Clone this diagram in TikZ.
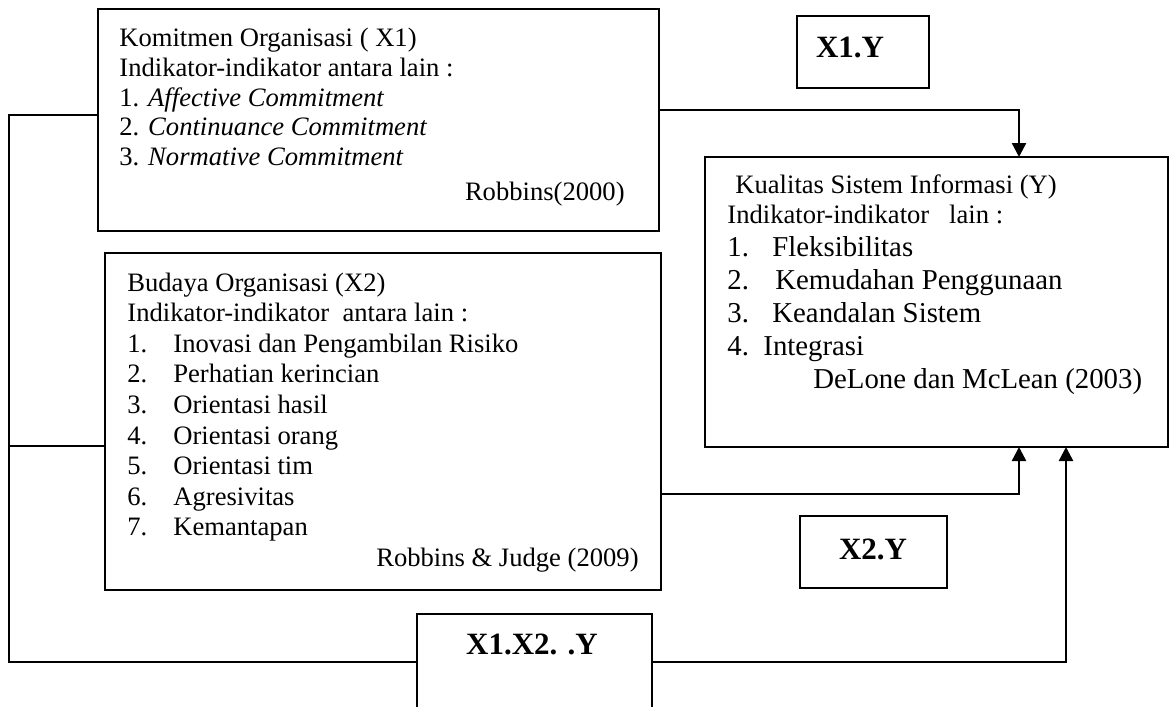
\documentclass[tikz,border=0pt]{standalone}
\usepackage{fontspec}
\setmainfont{Liberation Serif}
\usetikzlibrary{arrows.meta}

\tikzset{
  box/.style={draw, line width=1pt, inner sep=0pt},
  txt/.style={inner sep=0pt, anchor=base west, font=\fontsize{13.3}{15.3}\selectfont},
  lbl/.style={inner sep=0pt, font=\fontsize{15.5}{18}\selectfont\bfseries},
  link/.style={line width=1pt},
  arr/.style={line width=1.2pt, -{Triangle[length=7pt,width=7pt]}}
}
\newcommand{\num}[2][23pt]{\makebox[#1][l]{#2}}
\newcommand{\boxlines}[1]{\begin{tabular}[t]{@{}l@{}}#1\end{tabular}}

\begin{document}
\begin{tikzpicture}[x=0.5pt, y=-0.5pt]
  \useasboundingbox (0,0) rectangle (1171,706);

  % boxes
  \node[box, minimum width=280.5pt, minimum height=111pt] (x1) at (378.5,120) {};
  \node[box, minimum width=278pt, minimum height=168.5pt] (x2) at (383,421.5) {};
  \node[box, minimum width=231.5pt, minimum height=145pt] (y) at (936.5,302) {};
  \node[box, minimum width=66pt, minimum height=36pt] (x1y) at (863,52) {};
  \node[box, minimum width=73.5pt, minimum height=36pt] (x2y) at (873.5,552) {};
  \node[box, minimum width=117.5pt, minimum height=58pt] (x12y) at (534.5,672) {};

  % texts
  \node[txt, font=\fontsize{13.3}{14.75}\selectfont] (x1txt) at (119,47) {\boxlines{%
    Komitmen Organisasi ( X1)\\
    Indikator-indikator antara lain :\\
    1. \textit{Affective Commitment}\\
    2. \textit{Continuance Commitment}\\
    3. \textit{Normative Commitment}}};
  \node[txt, anchor=base east] (x1src) at (625,200) {Robbins(2000)};

  \node[txt] (x2txt) at (127,291) {\boxlines{%
    Budaya Organisasi (X2)\\
    Indikator-indikator\ \ antara lain :\\
    \num{1.}Inovasi dan Pengambilan Risiko\\
    \num{2.}Perhatian kerincian\\
    \num{3.}Orientasi hasil\\
    \num{4.}Orientasi orang\\
    \num{5.}Orientasi tim\\
    \num{6.}Agresivitas\\
    \num{7.}Kemantapan}};
  \node[txt, anchor=base east] (x2src) at (639,566) {Robbins \& Judge (2009)};

  \node[txt, font=\fontsize{14.4}{16.5}\selectfont] (ytxt) at (727,193) {\boxlines{%
    \fontsize{13.3}{15}\selectfont\hspace{4pt}Kualitas Sistem Informasi (Y)\\[-1.5pt]
    \fontsize{13.3}{15}\selectfont Indikator-indikator\ \ \ lain :\\
    \num[22.5pt]{1.}Fleksibilitas\\
    \num[24pt]{2.}Kemudahan Penggunaan\\
    \num[22.5pt]{3.}Keandalan Sistem\\
    \num[18pt]{4.}Integrasi\\
    \hspace{43pt}DeLone dan McLean (2003)}};

  \node[lbl] (x1ylab) at (850,47) {X1.Y};
  \node[lbl] (x2ylab) at (873,549) {X2.Y};
  \node[lbl] (x12ylab) at (532,644) {X1.X2. .Y};

  % connector points
  \coordinate (x1out) at (659,110);
  \coordinate (y1in) at (1019,157);
  \coordinate (x2out) at (661,494);
  \coordinate (y2in) at (1019,447);
  \coordinate (y3in) at (1066,447);
  \coordinate (x1bus) at (98,115);
  \coordinate (x2bus) at (105,446);
  \coordinate (busL) at (9,115);
  \coordinate (busB) at (9,662);

  \draw[arr] (x1out) -| (y1in);
  \draw[arr] (x2out) -| (y2in);
  \draw[link] (x1bus) -- (busL) -- (busB) -- (busB -| x12y.west);
  \draw[link] (x2bus) -- (x2bus -| busL);
  \draw[arr] (busB -| x12y.east) -| (y3in);
\end{tikzpicture}
\end{document}
